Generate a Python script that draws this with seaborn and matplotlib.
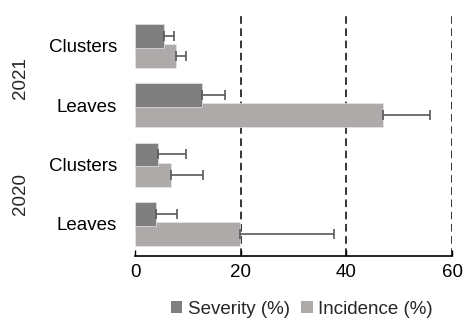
import matplotlib
matplotlib.use("Agg")
import matplotlib.pyplot as plt
import seaborn as sns
import pandas as pd
import numpy as np

categories = ["Clusters", "Leaves", "Clusters ", "Leaves "]
tick_labels = ["Clusters", "Leaves", "Clusters", "Leaves"]
years = ["2021", "2020"]
series = ["Severity (%)", "Incidence (%)"]
severity = [5.4, 12.6, 4.3, 3.9]
severity_err = [1.9, 4.5, 5.4, 4.1]
incidence = [7.8, 46.9, 6.8, 19.8]
incidence_err = [1.9, 9.0, 6.1, 17.8]

df = pd.DataFrame({
    "cat": categories * 2,
    "val": severity + incidence,
    "series": [series[0]] * 4 + [series[1]] * 4,
})

sns.set_style("white")
plt.rcParams["font.family"] = ["Liberation Sans", "DejaVu Sans"]

fig = plt.figure(figsize=(4.65, 3.2), dpi=100)
ax = fig.add_axes([135 / 465, 64 / 320, 317 / 465, 241 / 320])

colors = ["#7f7f7f", "#aeaaaa"]
sns.barplot(data=df, y="cat", x="val", hue="series", order=categories,
            hue_order=series, palette=colors, orient="h", width=0.68,
            errorbar=None, ax=ax, legend=True, saturation=1)

# adjust bars: height 0.4, centres +-0.17, severity on top
for p in ax.patches:
    c = p.get_y() + p.get_height() / 2
    p.set_height(0.40)
    p.set_y(c - 0.20)
    p.set_edgecolor("#e6e6e6")
    p.set_linewidth(0.5)
for cont, z in zip(ax.containers, [3, 2]):
    for p in cont:
        p.set_zorder(z)

# error bars (positive only)
for cont, vals, errs in zip(ax.containers, [severity, incidence], [severity_err, incidence_err]):
    ys = [p.get_y() + p.get_height() / 2 for p in cont]
    ax.errorbar(vals, ys, xerr=[np.zeros(len(errs)), errs], fmt="none",
                ecolor="#595959", elinewidth=1.2, capsize=3.5, capthick=1.2, zorder=4)

ax.set_xlim(0, 60)
ax.set_ylim(3.54, -0.52)
ax.set_xticks([0, 20, 40, 60])
ax.set_yticks(range(4))
ax.set_yticklabels(tick_labels)
ax.set_xlabel("")
ax.set_ylabel("")
for x in [20, 40, 60]:
    ax.axvline(x, color="black", linestyle=(0, (5, 3)), linewidth=1.1, zorder=1)

for s in ["top", "right", "left"]:
    ax.spines[s].set_visible(False)
ax.spines["bottom"].set_color("black")
ax.spines["bottom"].set_linewidth(1.2)
ax.tick_params(axis="y", length=0, pad=13, labelsize=13.5, colors="black")
ax.tick_params(axis="x", direction="in", length=4, width=1, pad=6, labelsize=13.5,
               colors="black", bottom=True)

fig.text(21 / 465, 1 - 78 / 320, years[0], rotation=90, ha="center", va="center", fontsize=13.5)
fig.text(21 / 465, 1 - 194 / 320, years[1], rotation=90, ha="center", va="center", fontsize=13.5)

leg = ax.legend(loc="center", bbox_to_anchor=(0.527, -0.222), ncol=2, frameon=False,
                fontsize=13.5, handlelength=0.6, handleheight=0.6, handletextpad=0.3,
                columnspacing=0.6, borderpad=0)
for h in leg.legend_handles:
    h.set_edgecolor("none")

fig.savefig("out.png", dpi=100)
